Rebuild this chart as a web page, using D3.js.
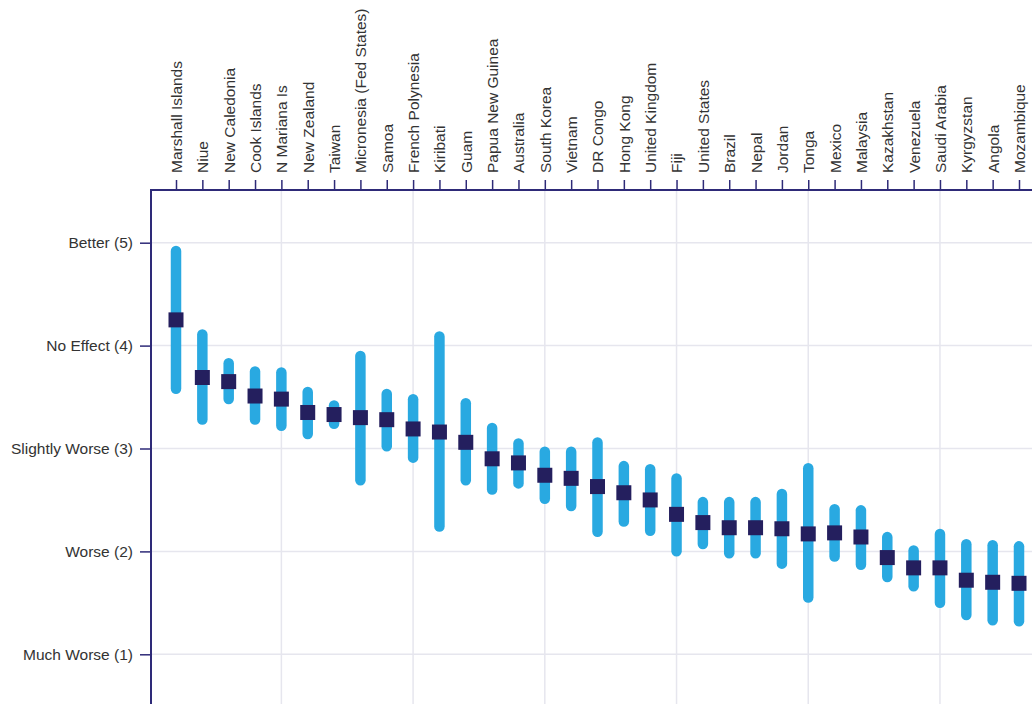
<!DOCTYPE html>
<html>
<head>
<meta charset="utf-8">
<script src="https://cdn.jsdelivr.net/npm/d3@7"></script>
<style>
  html, body { margin: 0; padding: 0; background: #fff; }
  svg { display: block; }
  text { font-family: "Liberation Sans", Arial, sans-serif; fill: #333; }
</style>
</head>
<body>
<svg id="chart" width="1032" height="704"></svg>
<script>
// Countries, ordered by mean score
const countries = [
  "Marshall Islands", "Niue", "New Caledonia", "Cook Islands", "N Mariana Is",
  "New Zealand", "Taiwan", "Micronesia (Fed States)", "Samoa", "French Polynesia",
  "Kiribati", "Guam", "Papua New Guinea", "Australia", "South Korea",
  "Vietnam", "DR Congo", "Hong Kong", "United Kingdom", "Fiji",
  "United States", "Brazil", "Nepal", "Jordan", "Tonga",
  "Mexico", "Malaysia", "Kazakhstan", "Venezuela", "Saudi Arabia",
  "Kyrgyzstan", "Angola", "Mozambique"
];
// Mean response per country
const means = [
  4.25, 3.69, 3.65, 3.51, 3.48,
  3.35, 3.33, 3.30, 3.28, 3.19,
  3.16, 3.06, 2.90, 2.86, 2.74,
  2.71, 2.63, 2.57, 2.50, 2.36,
  2.28, 2.23, 2.23, 2.22, 2.17,
  2.18, 2.14, 1.94, 1.84, 1.84,
  1.72, 1.70, 1.69
];
// Interval lower bounds
const lower = [
  3.53, 3.23, 3.43, 3.23, 3.17,
  3.09, 3.19, 2.64, 2.97, 2.86,
  2.19, 2.64, 2.55, 2.61, 2.46,
  2.39, 2.14, 2.24, 2.15, 1.95,
  2.02, 1.93, 1.93, 1.83, 1.50,
  1.90, 1.82, 1.70, 1.61, 1.45,
  1.33, 1.28, 1.27
];
// Interval upper bounds
const upper = [
  4.97, 4.16, 3.88, 3.80, 3.79,
  3.60, 3.47, 3.95, 3.58, 3.53,
  4.14, 3.49, 3.25, 3.10, 3.02,
  3.02, 3.11, 2.88, 2.85, 2.76,
  2.53, 2.53, 2.53, 2.61, 2.86,
  2.46, 2.45, 2.19, 2.06, 2.22,
  2.12, 2.11, 2.10
];
// Response scale
const scaleValues = [5, 4, 3, 2, 1];
const scaleLabels = ["Better (5)", "No Effect (4)", "Slightly Worse (3)", "Worse (2)", "Much Worse (1)"];

const W = 1032, H = 704;
const plotLeft = 151, plotTop = 190;
const svg = d3.select("#chart");

const data = countries.map((c, i) => ({ country: c, mean: means[i], lo: lower[i], hi: upper[i] }));

const x = d3.scalePoint().domain(countries).range([176, 1019]);
const y = d3.scaleLinear().domain([5, 1]).range([242.7, 654.3]);

const gridColor = "#e6e6ee";
const axisColor = "#2e2a78";

// Horizontal gridlines
svg.append("g").selectAll("line").data(scaleValues).join("line")
  .attr("x1", plotLeft).attr("x2", W)
  .attr("y1", d => y(d)).attr("y2", d => y(d))
  .attr("stroke", gridColor).attr("stroke-width", 1.5);

// Vertical gridlines every fifth country
svg.append("g").selectAll("line")
  .data(countries.filter((c, i) => i % 5 === 4)).join("line")
  .attr("x1", d => x(d)).attr("x2", d => x(d))
  .attr("y1", plotTop).attr("y2", H)
  .attr("stroke", gridColor).attr("stroke-width", 1.5);

// Top axis with rotated country names
const xAxis = svg.append("g")
  .attr("transform", `translate(0,${plotTop})`)
  .call(d3.axisTop(x).tickSize(10).tickPadding(7));
xAxis.select(".domain").remove();
xAxis.selectAll(".tick line").attr("stroke", axisColor).attr("stroke-width", 1.5);
xAxis.selectAll(".tick text")
  .attr("transform", "rotate(-90)")
  .attr("x", 17).attr("y", 0).attr("dy", "0.35em")
  .attr("text-anchor", "start")
  .style("font-size", "15.5px").style("fill", "#333");

// Left axis with response labels
const yAxis = svg.append("g")
  .attr("transform", `translate(${plotLeft},0)`)
  .call(d3.axisLeft(y).tickValues(scaleValues)
    .tickFormat((d, i) => scaleLabels[i]).tickSize(11).tickPadding(7));
yAxis.select(".domain").remove();
yAxis.selectAll(".tick line").attr("stroke", axisColor).attr("stroke-width", 1.5);
yAxis.selectAll(".tick text").style("font-size", "15.5px").style("fill", "#333");

// Axis lines
svg.append("line").attr("x1", plotLeft).attr("x2", W).attr("y1", plotTop).attr("y2", plotTop)
  .attr("stroke", axisColor).attr("stroke-width", 2);
svg.append("line").attr("x1", plotLeft).attr("x2", plotLeft).attr("y1", plotTop - 1).attr("y2", H)
  .attr("stroke", axisColor).attr("stroke-width", 2);

// Interval bars
const barW = 10.5;
svg.append("g").selectAll("rect").data(data).join("rect")
  .attr("x", d => x(d.country) - barW / 2)
  .attr("width", barW)
  .attr("y", d => y(d.hi))
  .attr("height", d => y(d.lo) - y(d.hi))
  .attr("rx", barW / 2)
  .attr("fill", "#29a9e1");

// Mean markers
const sq = 15;
svg.append("g").selectAll("rect").data(data).join("rect")
  .attr("x", d => x(d.country) - sq / 2)
  .attr("y", d => y(d.mean) - sq / 2)
  .attr("width", sq).attr("height", sq)
  .attr("fill", "#241f5e");
</script>
</body>
</html>
